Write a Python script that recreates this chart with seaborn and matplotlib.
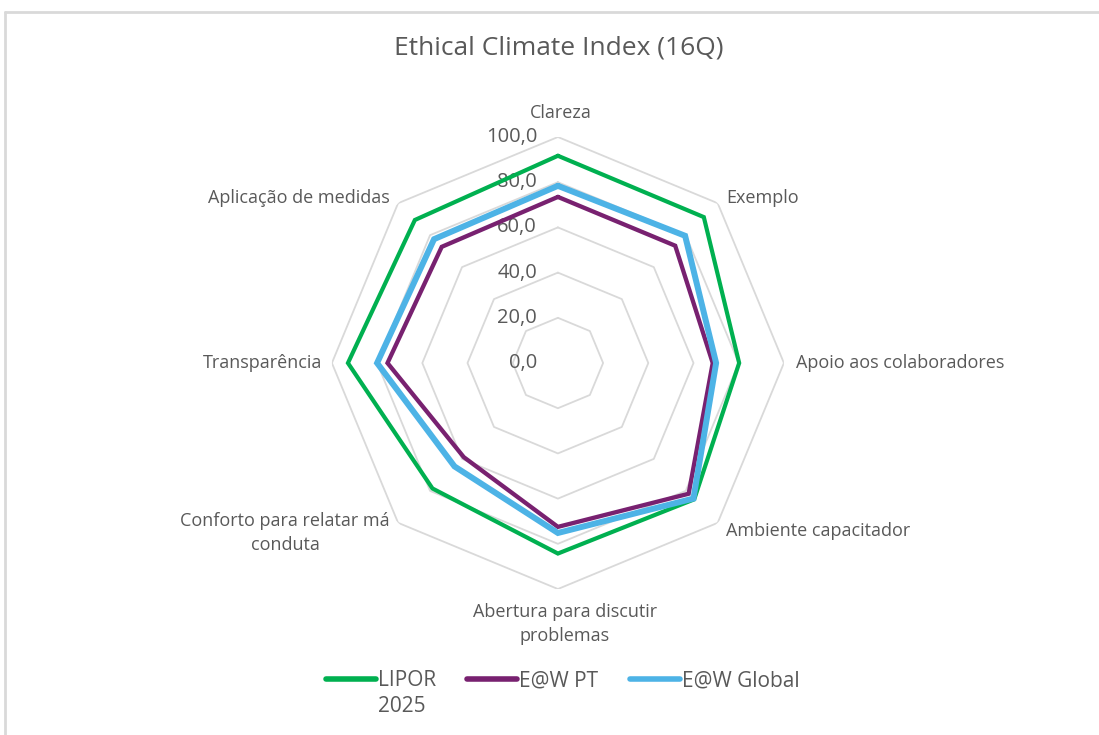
import numpy as np
import pandas as pd
import matplotlib
matplotlib.use("Agg")
import matplotlib.pyplot as plt
import seaborn as sns
from matplotlib.lines import Line2D

# data
categories = ["Clareza", "Exemplo", "Apoio aos colaboradores", "Ambiente capacitador",
              "Abertura para discutir\nproblemas", "Conforto para relatar má\nconduta",
              "Transparência", "Aplicação de medidas"]
lipor = [91.7, 91.3, 80.2, 85.3, 84.3, 78.5, 92.9, 89.5]
ewPT = [73.5, 73.4, 68.5, 81.8, 72.5, 58.9, 75.4, 72.7]
ewGlobal = [78.4, 79.6, 70.0, 84.8, 75.2, 64.7, 80.0, 77.5]
seriesNames = ["LIPOR 2025", "E@W PT", "E@W Global"]
rTicks = [0, 20, 40, 60, 80, 100]

colors = {"LIPOR 2025": "#00B050", "E@W PT": "#782170", "E@W Global": "#4DB3E6"}
widths = {"LIPOR 2025": 3.0, "E@W PT": 3.1, "E@W Global": 4.3}
textColor = "#595959"
gridColor = "#D9D9D9"

sns.set_style("white")
plt.rcParams['font.family'] = ['Open Sans', 'DejaVu Sans']

n = len(categories)
theta = np.linspace(0, 2 * np.pi, n, endpoint=False)
thetaClosed = np.append(theta, 2 * np.pi)

rows = []
for name, vals in zip(seriesNames, [lipor, ewPT, ewGlobal]):
    for t, v in zip(thetaClosed, list(vals) + [vals[0]]):
        rows.append({"series": name, "theta": t, "value": v})
df = pd.DataFrame(rows)

fig = plt.figure(figsize=(10.99, 7.35), dpi=100)
ax = fig.add_axes([0.302, 0.1986, 0.4113, 0.615], projection="polar")
ax.set_theta_offset(np.pi / 2)
ax.set_theta_direction(-1)
ax.set_ylim(0, 100)
ax.grid(False)
ax.spines["polar"].set_visible(False)
ax.set_xticks([])
ax.set_yticks([])
ax.patch.set_alpha(0)

# polygon gridlines
for r in rTicks[1:]:
    ax.plot(thetaClosed, [r] * (n + 1), color=gridColor, lw=1.3, zorder=1)

for name in seriesNames:
    sns.lineplot(data=df[df["series"] == name], x="theta", y="value", ax=ax,
                 color=colors[name], lw=widths[name], sort=False, label=name,
                 zorder=3, solid_joinstyle="miter")
ax.set_xlabel("")
ax.set_ylabel("")
ax.get_legend().remove()

# radial tick labels
for r in rTicks:
    ax.annotate(f"{r:.1f}".replace(".", ","), xy=(0, r), xytext=(-15, 0),
                textcoords="offset points", ha="right", va="center",
                fontsize=14.5, color=textColor, zorder=2)

# category labels
offsets = [((2, 17), "center", "center"), ((6, 4), "left", "center"),
           ((9, 0), "left", "center"), ((6, -6), "left", "center"),
           ((5, -10), "center", "top"), ((-6, 8), "right", "top"),
           ((-7, 0), "right", "center"), ((-6, 4), "right", "center")]
for t, lab, (off, ha, va) in zip(theta, categories, offsets):
    ax.annotate(lab, xy=(t, 100), xytext=off, textcoords="offset points",
                ha=ha, va=va, fontsize=13, color=textColor, linespacing=1.45,
                multialignment="center", annotation_clip=False)

fig.text(0.508, 1 - 48 / 735, "Ethical Climate Index (16Q)", ha="center",
         va="center", fontsize=19, color=textColor)

# legend: first label wraps onto a second line under the text, like the original
legLabels = ["LIPOR", "E@W PT", "E@W Global"]
handles = [Line2D([0], [0], color=colors[s], lw=4, solid_capstyle="round") for s in seriesNames]
leg = fig.legend(handles, legLabels, loc="center", bbox_to_anchor=(0.512, 1 - 681 / 735),
                 ncol=3, frameon=False, fontsize=15, handlelength=2.4,
                 handletextpad=0.1, columnspacing=1.5)
for txt in leg.get_texts():
    txt.set_color(textColor)
fig.canvas.draw()
bb = leg.get_texts()[0].get_window_extent()
fig.text(bb.x0 / fig.bbox.width, (bb.y0 - 4) / fig.bbox.height, "2025", ha="left",
         va="top", fontsize=15, color=textColor)

# outer border of the chart area
fig.add_artist(Line2D([5 / 1099, 1], [1 - 12 / 735, 1 - 12 / 735], color=gridColor, lw=2))
fig.add_artist(Line2D([5 / 1099, 5 / 1099], [0, 1 - 12 / 735], color=gridColor, lw=2))

fig.savefig("out.png", dpi=100)
